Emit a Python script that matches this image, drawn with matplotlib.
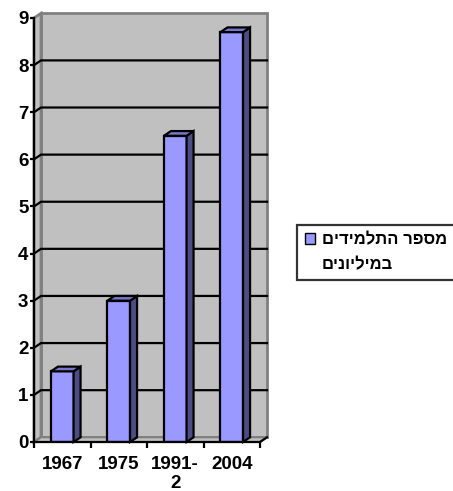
import matplotlib
matplotlib.use("Agg")
import matplotlib.pyplot as plt
from matplotlib.patches import Polygon, Patch

plt.rcParams['font.family'] = ['Liberation Sans', 'DejaVu Sans']
plt.rcParams['font.weight'] = 'bold'

# data
categories = ["1967", "1975", "1991-\n2", "2004"]
values = [1.5, 3.0, 6.5, 8.7]
series_name = ["מספר התלמידים", "במיליונים"]
yticks = list(range(0, 10))

front = "#9999FF"
side = "#4D4D85"
top = "#7878C8"
wall = "#C0C0C0"
edge_gray = "#808080"
fs = 13.5
leg_fs = 12

fig = plt.figure(figsize=(4.53, 4.91), dpi=100)
ax = fig.add_axes([34/453, 1-442/491, 226/453, 424/491])
ax.set_xlim(-0.5, 3.5)
ax.set_ylim(0, 9)
ax.set_facecolor("none")

dx, dy = 0.124, 0.1   # depth offset of the 3d look
x0, x1 = -0.5, 3.5

# back wall, side wall, floor
ax.add_patch(Polygon([(x0+dx, dy), (x1+dx, dy), (x1+dx, 9+dy), (x0+dx, 9+dy)],
                     closed=True, fc=wall, ec=edge_gray, lw=2, clip_on=False, zorder=0))
ax.add_patch(Polygon([(x0, 0), (x0+dx, dy), (x0+dx, 9+dy), (x0, 9)],
                     closed=True, fc=wall, ec=edge_gray, lw=2, clip_on=False, zorder=0))
ax.add_patch(Polygon([(x0, 0), (x1, 0), (x1+dx, dy), (x0+dx, dy)],
                     closed=True, fc=wall, ec=edge_gray, lw=1.5, clip_on=False, zorder=0.5))

# gridlines
for t in yticks[1:-1]:
    ax.plot([x0, x0+dx, x1+dx], [t, t+dy, t+dy], color="black", lw=1.6,
            clip_on=False, zorder=1)

# bars
x = list(range(len(values)))
w = 0.4
ax.bar(x, values, width=w, color=front, edgecolor="black", lw=1.6, zorder=3)
for xi, v in zip(x, values):
    r = xi + w/2
    l = xi - w/2
    ax.add_patch(Polygon([(r, 0), (r+dx, dy), (r+dx, v+dy), (r, v)], closed=True,
                         fc=side, ec="black", lw=1.6, zorder=3, clip_on=False))
    ax.add_patch(Polygon([(l, v), (l+dx, v+dy), (r+dx, v+dy), (r, v)], closed=True,
                         fc=top, ec="black", lw=1.6, zorder=3, clip_on=False))

# axes
ax.plot([x1, x1+dx], [0, dy], color="black", lw=1.6, clip_on=False, zorder=4)
for s in ["top", "right"]:
    ax.spines[s].set_visible(False)
for s in ["left", "bottom"]:
    ax.spines[s].set_linewidth(1.6)
    ax.spines[s].set_zorder(5)

ax.set_yticks(yticks)
ax.set_yticklabels([str(t) for t in yticks], fontsize=fs, fontweight="bold")
ax.tick_params(axis="y", length=3, width=1.6, pad=1)
ax.set_xticks(x)
ax.set_xticklabels(categories, fontsize=fs, fontweight="bold", linespacing=1.15)
ax.tick_params(axis="x", which="major", length=0, pad=10)
ax.set_xticks([-0.5, 0.5, 1.5, 2.5, 3.5], minor=True)
ax.tick_params(axis="x", which="minor", length=4, width=1.6)

# legend (hebrew text reversed for display), marker on the first line only
labels = [line[::-1] for line in series_name]
handles = [Patch(fc=front, ec="black", lw=1), Patch(fc="none", ec="none")]
leg = fig.legend(handles, labels,
                 loc="upper left", bbox_to_anchor=(297/453, 1-225/491),
                 fancybox=False, frameon=True, edgecolor="black",
                 handlelength=0.65, handleheight=0.65, handletextpad=0.4,
                 labelspacing=0.6, borderpad=0.45, borderaxespad=0,
                 prop={"size": leg_fs, "weight": "bold"})
leg.get_frame().set_linewidth(1.6)

fig.savefig("out.png", dpi=100)
